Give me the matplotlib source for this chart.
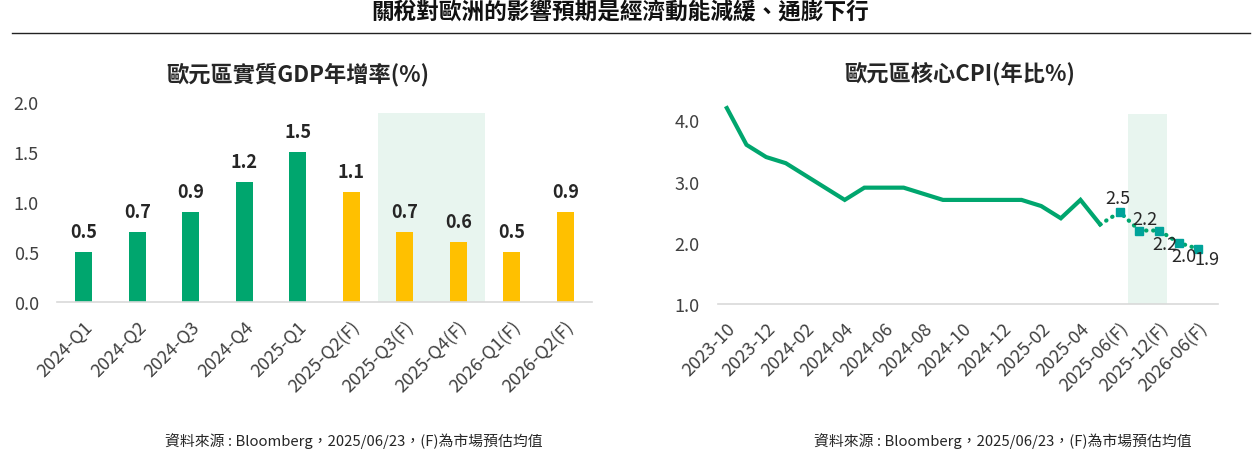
import matplotlib
matplotlib.use("Agg")
import matplotlib.pyplot as plt
from matplotlib.lines import Line2D

plt.rcParams['font.family'] = ['Noto Sans CJK TC', 'DejaVu Sans']

# --- Data ---
gdp_labels = ["2024-Q1", "2024-Q2", "2024-Q3", "2024-Q4", "2025-Q1",
              "2025-Q2(F)", "2025-Q3(F)", "2025-Q4(F)", "2026-Q1(F)", "2026-Q2(F)"]
gdp_values = [0.5, 0.7, 0.9, 1.2, 1.5, 1.1, 0.7, 0.6, 0.5, 0.9]
gdp_forecast = [False, False, False, False, False, True, True, True, True, True]

cpi_months = ["2023-10", "2023-11", "2023-12", "2024-01", "2024-02", "2024-03",
              "2024-04", "2024-05", "2024-06", "2024-07", "2024-08", "2024-09",
              "2024-10", "2024-11", "2024-12", "2025-01", "2025-02", "2025-03",
              "2025-04", "2025-05"]
cpi_values = [4.2, 3.6, 3.4, 3.3, 3.1, 2.9, 2.7, 2.9, 2.9, 2.9, 2.8, 2.7,
              2.7, 2.7, 2.7, 2.7, 2.6, 2.4, 2.7, 2.3]
fc_months = ["2025-06(F)", "2025-09(F)", "2025-12(F)", "2026-03(F)", "2026-06(F)"]
fc_values = [2.5, 2.2, 2.2, 2.0, 1.9]

GREEN = "#00A66E"
YELLOW = "#FFC000"
TEAL = "#00A39A"
SHADE = "#E8F5EF"
TICK = "#404040"

fig = plt.figure(figsize=(12.59, 4.52), dpi=100)

# --- Header ---
fig.text(620 / 1259, 1 - 13 / 452, "關稅對歐洲的影響預期是經濟動能減緩、通膨下行",
         ha="center", va="center", fontsize=16.3, fontweight="bold", color="#111111")
fig.add_artist(Line2D([12 / 1259, 1250 / 1259], [1 - 34 / 452, 1 - 34 / 452],
                      color="#222222", lw=1.0))
fig.text(298 / 1259, 1 - 75 / 452, "歐元區實質GDP年增率(%)", ha="center", va="center",
         fontsize=16, fontweight="bold", color="#262626")
fig.text(960 / 1259, 1 - 74 / 452, "歐元區核心CPI(年比%)", ha="center", va="center",
         fontsize=16, fontweight="bold", color="#262626")

# --- Left: GDP bars ---
ax1 = fig.add_axes([57 / 1259, 1 - 303 / 452, 535 / 1259, 200 / 452])
x1 = list(range(len(gdp_labels)))
colors = [YELLOW if f else GREEN for f in gdp_forecast]
ax1.axvspan(5.5, 7.5, ymin=-0.015, ymax=1.89 / 2.0, color=SHADE, zorder=0, lw=0)
ax1.bar(x1, gdp_values, width=0.32, color=colors, zorder=2)
for xi, v in zip(x1, gdp_values):
    ax1.annotate(f"{v:.1f}", (xi, v), xytext=(0, 8), textcoords="offset points",
                 ha="center", va="bottom", fontsize=13, fontweight="bold", color="#262626")
ax1.set_xlim(-0.5, 9.5)
ax1.set_ylim(0, 2.0)
ax1.set_yticks([0, 0.5, 1.0, 1.5, 2.0])
ax1.set_yticklabels([f"{t:.1f}" for t in [0, 0.5, 1.0, 1.5, 2.0]])
ax1.set_xticks(x1)
ax1.set_xticklabels(gdp_labels, rotation=45, ha="right", rotation_mode="anchor")

# --- Right: core CPI line ---
ax2 = fig.add_axes([718 / 1259, 1 - 305 / 452, 500 / 1259, 199 / 452])
n_hist = len(cpi_months)
x_hist = list(range(n_hist))
x_fc = list(range(n_hist, n_hist + len(fc_months)))
ax2.axvspan(20.4, 22.4, ymin=0, ymax=(4.11 - 1.0) / 3.25, color=SHADE, zorder=0, lw=0)
ax2.plot(x_hist, cpi_values, color=GREEN, lw=3, zorder=3, clip_on=False,
         solid_joinstyle="miter")
ax2.plot([x_hist[-1]] + x_fc, [cpi_values[-1]] + fc_values, color=GREEN, lw=3,
         linestyle=(0, (0.1, 1.6)), dash_capstyle="round", zorder=3)
ax2.plot(x_fc, fc_values, linestyle="none", marker="s", markersize=5.5,
         color=TEAL, zorder=4)
offsets = [(-1, 4, "center", "bottom"), (4, 2, "center", "bottom"),
           (4, -3, "center", "top"), (4, -3, "center", "top"),
           (6, -1, "center", "top")]
for xi, v, (dx, dy, ha, va) in zip(x_fc, fc_values, offsets):
    ax2.annotate(f"{v:.1f}", (xi, v), xytext=(dx, dy), textcoords="offset points",
                 ha=ha, va=va, fontsize=13, color="#262626", zorder=5)
all_labels = cpi_months + fc_months
ax2.set_xlim(-0.45, 25)
ax2.set_ylim(1.0, 4.25)
ax2.set_yticks([1, 2, 3, 4])
ax2.set_yticklabels([f"{t:.1f}" for t in [1, 2, 3, 4]])
ax2.set_xticks(list(range(0, len(all_labels), 2)))
ax2.set_xticklabels(all_labels[::2], rotation=45, ha="right", rotation_mode="anchor")

for ax in (ax1, ax2):
    for s in ("top", "right", "left"):
        ax.spines[s].set_visible(False)
    ax.spines["bottom"].set_color("#D9D9D9")
    ax.spines["bottom"].set_linewidth(1.2)
    ax.tick_params(axis="both", length=0, labelsize=13, labelcolor=TICK)
    ax.tick_params(axis="y", pad=13)
    ax.tick_params(axis="x", pad=11)

# --- Sources ---
src = "資料來源 : Bloomberg，2025/06/23，(F)為市場預估均值"
fig.text(354 / 1259, 1 - 441 / 452, src, ha="center", va="center", fontsize=10.7, color="#262626")
fig.text(1003 / 1259, 1 - 441 / 452, src, ha="center", va="center", fontsize=10.7, color="#262626")

fig.savefig("out.png", dpi=100)
